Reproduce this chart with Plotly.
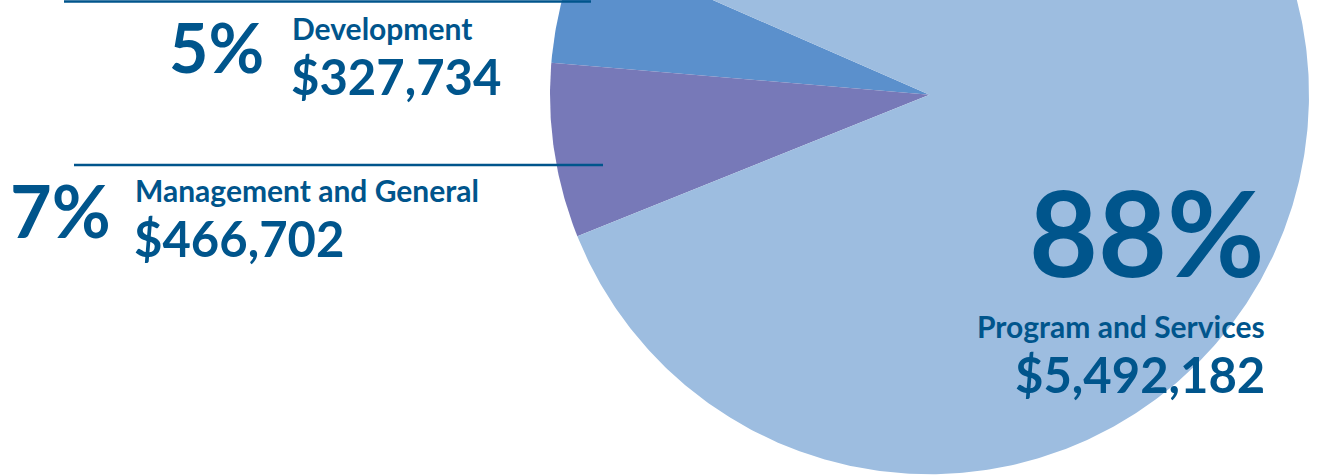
import numpy as np
import plotly.graph_objects as go

# ---- data ----
categories = ["Development", "Management and General", "Program and Services"]
amounts = [327734, 466702, 5492182]
pct_labels = ["5%", "7%", "88%"]
amount_labels = ["$327,734", "$466,702", "$5,492,182"]
colors = ["#5b90cc", "#7779b8", "#9dbde0"]

# ---- layout geometry (page pixels) ----
W, H = 1326, 475
CX, CY, R = 929.5, 94.7, 379.5
START_DEG = 156.4
TEXT = "#00558c"
FONT = "Lato"

fig = go.Figure()
total = float(sum(amounts))
a0 = START_DEG
for cat, val, col in zip(categories, amounts, colors):
    span = val / total * 360.0
    n = max(int(span * 2), 4)
    th = np.radians(np.linspace(a0, a0 + span, n))
    xs = np.concatenate([[CX], CX + R * np.cos(th), [CX]])
    ys = np.concatenate([[CY], CY - R * np.sin(th), [CY]])
    fig.add_trace(go.Scatter(
        x=xs, y=ys, mode="lines", fill="toself", fillcolor=col,
        line=dict(width=0, color=col), name=cat, hoverinfo="name",
        showlegend=False))
    a0 += span

def ann(x, y, text, size, xanchor):
    fig.add_annotation(x=x, y=y, xref="x", yref="y", text=f"<b>{text}</b>",
                       showarrow=False, xanchor=xanchor, yanchor="middle",
                       font=dict(family=FONT, size=size, color=TEXT), borderpad=0)

# Development
ann(168, 46, pct_labels[0], 68, "left")
ann(291, 28, categories[0], 30, "left")
ann(290, 76, amount_labels[0], 49, "left")
# Management and General
ann(9, 210, pct_labels[1], 72, "left")
ann(134, 190, categories[1], 30, "left")
ann(133, 238, amount_labels[1], 49, "left")
# Program and Services
ann(1266, 231, pct_labels[2], 119, "right")
ann(1266, 326, categories[2], 30, "right")
ann(1266, 374, amount_labels[2], 49, "right")

fig.add_shape(type="line", x0=64, x1=591, y0=1.5, y1=1.5, xref="x", yref="y",
              line=dict(color=TEXT, width=2.5))
fig.add_shape(type="line", x0=74, x1=603, y0=165, y1=165, xref="x", yref="y",
              line=dict(color=TEXT, width=2.5))

fig.update_layout(
    width=W, height=H, autosize=False,
    margin=dict(l=0, r=0, t=0, b=0),
    paper_bgcolor="white", plot_bgcolor="white",
    xaxis=dict(range=[0, W], visible=False, fixedrange=True),
    yaxis=dict(range=[H, 0], visible=False, fixedrange=True),
)
fig.write_html("out.html", config={"displayModeBar": False},
               post_script="document.body.style.margin='0';document.body.style.overflow='hidden';")
